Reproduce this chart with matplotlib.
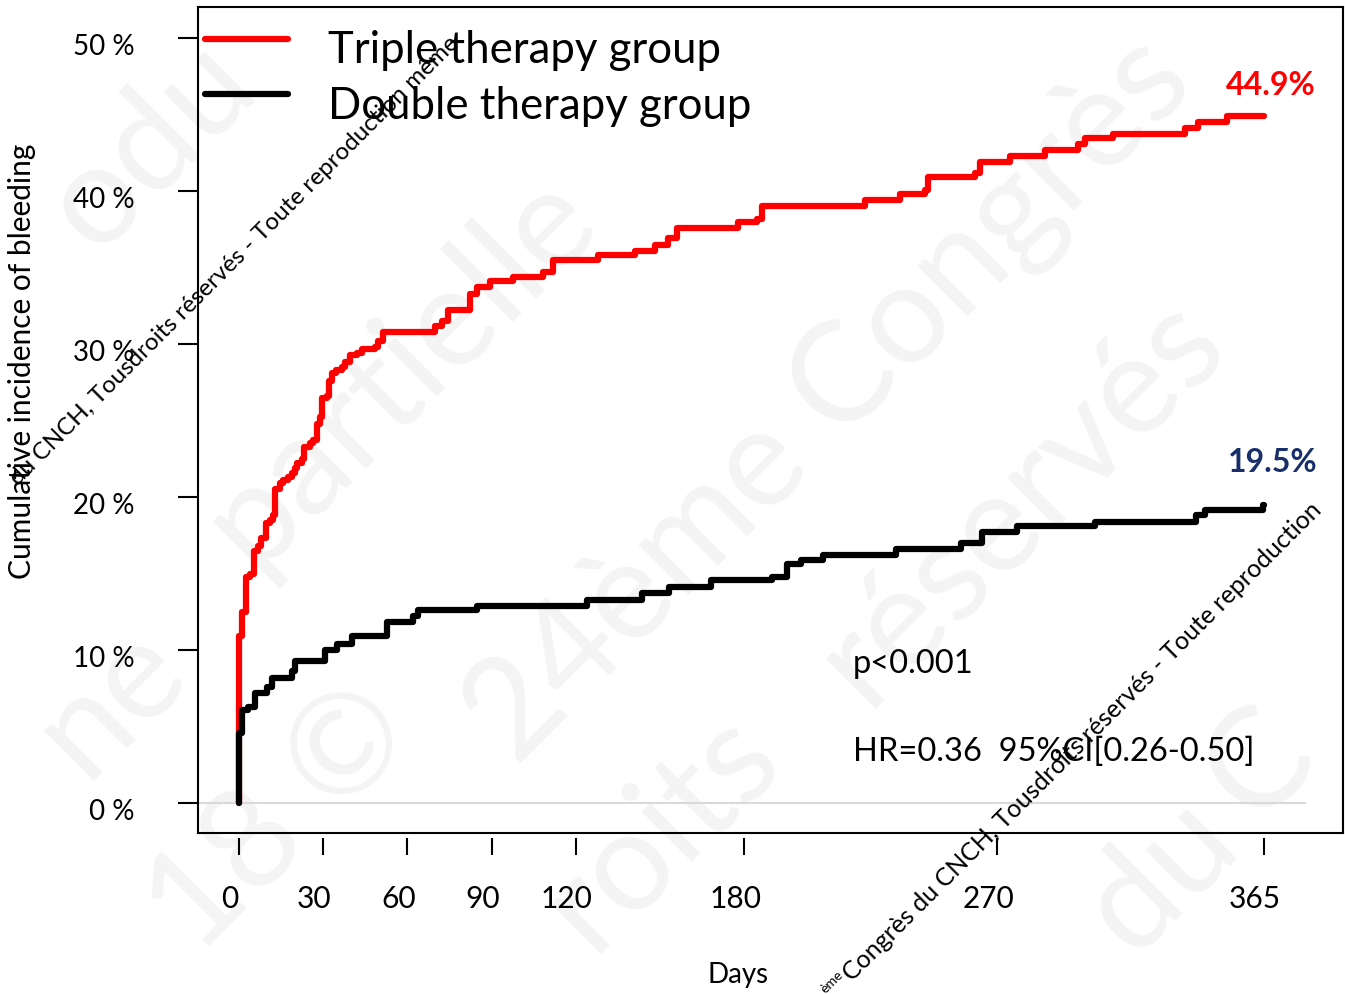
import matplotlib
matplotlib.use('Agg')
import matplotlib.pyplot as plt
from matplotlib import font_manager
from matplotlib.transforms import ScaledTranslation

# values (days, cumulative incidence in %)
red_days = [0, 0, 1.0, 2.5, 3.9, 5.3, 6.9, 7.7, 9.6, 11.0, 12.1, 12.8, 14.6, 15.7,
            17.5, 18.8, 20.0, 20.6, 22.3, 23.2, 25.3, 26.5, 27.7, 28.9, 29.5, 31.2,
            32.2, 33.0, 34.6, 36.6, 37.8, 39.5, 41.9, 43.7, 48.5, 49.6, 51.4, 69.8,
            72.3, 74.5, 82.3, 84.8, 89.4, 97.6, 108.3, 111.9, 127.9, 141.1, 148.2,
            152.8, 156.0, 177.8, 184.5, 186.3, 223.0, 235.5, 244.4, 245.5, 262.2,
            264.0, 274.7, 287.1, 298.9, 301.4, 311.4, 337.0, 341.6, 352.0, 365]
red_pct = [0, 10.9, 12.5, 14.8, 15.0, 16.5, 16.8, 17.3, 18.3, 18.5, 18.8, 20.5, 20.9,
           21.1, 21.3, 21.6, 21.9, 22.2, 22.5, 23.3, 23.5, 23.7, 24.8, 25.2, 26.5,
           26.6, 27.6, 28.1, 28.3, 28.5, 28.8, 29.3, 29.4, 29.7, 29.8, 30.2, 30.8,
           31.2, 31.5, 32.2, 33.3, 33.7, 34.1, 34.4, 34.7, 35.5, 35.8, 36.1, 36.5,
           36.9, 37.6, 38.0, 38.2, 39.0, 39.4, 39.8, 40.1, 40.9, 41.2, 41.9, 42.3,
           42.7, 43.1, 43.5, 43.7, 44.1, 44.5, 44.9, 44.9]

black_days = [0, 0, 1.0, 3.3, 5.7, 9.9, 11.6, 18.8, 20.0, 30.6, 34.8, 40.1, 52.6,
              62.1, 63.9, 84.7, 123.9, 143.5, 153.0, 168.0, 190.0, 195.0, 200.0,
              208.0, 234.0, 257.0, 264.5, 277.0, 305.0, 341.0, 344.0, 364.6, 365]
black_pct = [0, 4.6, 6.1, 6.3, 7.2, 7.6, 8.2, 8.6, 9.3, 10.0, 10.4, 10.9, 11.8, 12.2,
             12.6, 12.9, 13.3, 13.7, 14.1, 14.6, 14.75, 15.6, 15.9, 16.2, 16.6, 17.0,
             17.7, 18.1, 18.4, 18.8, 19.15, 19.5, 19.5]

x_ticks = [0, 30, 60, 90, 120, 180, 270, 365]
y_ticks = [0, 10, 20, 30, 40, 50]
y_tick_labels = ['0 %', '10 %', '20 %', '30 %', '40 %', '50 %']
series_labels = ['Triple therapy group', 'Double therapy group']
end_labels = ['44.9%', '19.5%']
p_text = 'p<0.001'
hr_text = 'HR=0.36  95%CI[0.26-0.50]'
zero_line_end = 380

W, H = 1345, 994

installed = {f.name for f in font_manager.fontManager.ttflist}
narrow = 'Liberation Sans Narrow' if 'Liberation Sans Narrow' in installed else 'Lato'
plt.rcParams['font.family'] = ['Lato', 'DejaVu Sans']


def fx(px):
    return px / W


def fy(py):
    return 1 - py / H


fig = plt.figure(figsize=(W / 100, H / 100), dpi=100)
fig.patch.set_facecolor('white')

# faint diagonal watermark of the congress slide (only the visible pieces)
wm = [('odu', 150, 145), ('ne', 110, 700), ('partielle', 400, 370),
      ('18 ©', 280, 820), ('24ème Congrès', 830, 400), ('roits', 660, 830),
      ('réservés', 1020, 500), ('du', 1160, 875), ('C', 1260, 765)]
for s, px, py in wm:
    fig.text(fx(px), fy(py), s, rotation=45, ha='center', va='center',
             rotation_mode='anchor', fontsize=100, color='#f4f4f4', zorder=-1)

ax = fig.add_axes([fx(198), fy(833), (1343 - 198) / W, (833 - 7) / H])
ax.set_facecolor('none')

ax.hlines(0, -14.6, zero_line_end, color='#d9d9d9', lw=1.5, zorder=1)
ax.plot(red_days, red_pct, drawstyle='steps-post', color='red', lw=4.5,
        solid_capstyle='round', label=series_labels[0], zorder=3)
ax.plot(black_days, black_pct, drawstyle='steps-post', color='black', lw=4.5,
        solid_capstyle='round', label=series_labels[1], zorder=4)

ax.set_xlim(-14.6, 393.2)
ax.set_ylim(-1.96, 52.03)

for sp in ax.spines.values():
    sp.set_linewidth(1.5)
    sp.set_color('black')

ax.set_yticks(y_ticks, y_tick_labels)
ax.tick_params(axis='y', direction='out', length=14.4, width=1.5, pad=31,
               labelsize=20)
ax.tick_params(axis='x', bottom=False, labelbottom=False)
down = ScaledTranslation(0, -6 / 100, fig.dpi_scale_trans)
for lbl in ax.get_yticklabels():
    lbl.set_transform(lbl.get_transform() + down)

# R style x axis, detached a little below the box
sec = ax.secondary_xaxis(-5 / 826)
sec.spines['bottom'].set_visible(False)
sec.set_xticks(x_ticks, [str(t) for t in x_ticks])
sec.tick_params(direction='out', length=12.2, width=1.5, pad=22, labelsize=21.5,
                labelfontfamily=narrow)
left = ScaledTranslation(-9 / 100, 0, fig.dpi_scale_trans)
for lbl in sec.get_xticklabels():
    lbl.set_transform(lbl.get_transform() + left)
sec.set_xlabel('Days', fontsize=20)
sec.xaxis.set_label_coords((738 - 198) / 1145, (833 - 975) / 826,
                           transform=ax.transAxes)
sec.xaxis.label.set_va('center')

ax.set_ylabel('Cumulative incidence of bleeding', fontsize=21.5)
ax.yaxis.set_label_coords((22 - 198) / 1145, (833 - 361) / 826)
ax.yaxis.label.set_va('center')

leg = ax.legend(loc='upper left', bbox_to_anchor=(7 / 1145, 0.9717), frameon=False,
                fontsize=31.5, handlelength=1.9, handletextpad=0.9,
                labelspacing=0.33, borderpad=0, borderaxespad=0)
for hl in leg.get_lines():
    hl.set_ydata([v + 6.5 for v in hl.get_ydata()])

ax.annotate(end_labels[0], xy=(red_days[-1], red_pct[-1]), xytext=(7, 31),
            textcoords='offset pixels', ha='center', va='center', color='red',
            fontweight='bold', fontsize=23)
ax.annotate(end_labels[1], xy=(black_days[-1], black_pct[-1]), xytext=(9, 42),
            textcoords='offset pixels', ha='center', va='center',
            color='#192f6b', fontweight='bold', fontsize=23)

ax.text(218.7, 9.08, p_text, va='center', fontsize=23.5)
ax.text(218.7, 3.33, hr_text, va='center', fontsize=23.5)

# small copyright lines printed across the slide
fig.text(fx(18), fy(486), 'du CNCH, Tousdroits réservés - Toute reproduction même',
         rotation=45, rotation_mode='anchor', ha='left', va='baseline',
         fontsize=17.5, color='black', zorder=10)
fig.text(fx(852), fy(982), 'Congrès du CNCH, Tousdroits réservés - Toute reproduction',
         rotation=45, rotation_mode='anchor', ha='left', va='baseline',
         fontsize=18, color='black', zorder=10)
fig.text(fx(832), fy(982), 'ème', rotation=45, rotation_mode='anchor',
         ha='center', va='center', fontsize=10, color='black', zorder=10)

fig.savefig('out.png', dpi=100, facecolor='white')
